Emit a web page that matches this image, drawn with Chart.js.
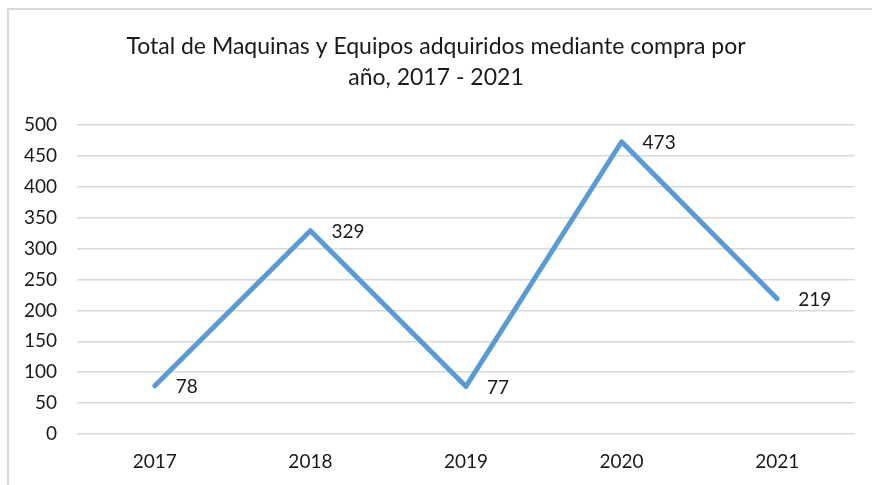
<!DOCTYPE html>
<html>
<head>
<meta charset="utf-8">
<title>Maquinas y Equipos</title>
<script src="https://cdn.jsdelivr.net/npm/chart.js@4.4.1/dist/chart.umd.min.js"></script>
<style>
  html, body { margin: 0; padding: 0; background: #fff; overflow: hidden; }
  #wrap { position: relative; width: 872px; height: 485px; }
  #frame {
    position: absolute; left: 7px; top: 8px; width: 900px; height: 500px;
    border-left: 2px solid #d9d9d9; border-top: 2px solid #d9d9d9;
  }
  canvas { position: absolute; left: 0; top: 0; }
</style>
</head>
<body>
<div id="wrap">
  <div id="frame"></div>
  <canvas id="myChart" width="872" height="485"></canvas>
</div>
<script>
const years = ['2017', '2018', '2019', '2020', '2021'];
const compras = [78, 329, 77, 473, 219];
const titleLines = ['Total de Maquinas y Equipos adquiridos mediante compra por', 'año, 2017 - 2021'];

const FONT = "Lato, 'Open Sans', sans-serif";

// value labels to the right of each point
const pointLabels = {
  id: 'pointLabels',
  afterDatasetsDraw(chart) {
    const ctx = chart.ctx;
    const meta = chart.getDatasetMeta(0);
    ctx.save();
    ctx.font = '19px ' + FONT;
    ctx.fillStyle = '#1a1a1a';
    ctx.textAlign = 'left';
    ctx.textBaseline = 'middle';
    meta.data.forEach((pt, i) => {
      ctx.fillText(String(compras[i]), pt.x + 21, pt.y + 1);
    });
    ctx.restore();
  }
};

const ctx = document.getElementById('myChart').getContext('2d');
new Chart(ctx, {
  type: 'line',
  data: {
    labels: years,
    datasets: [{
      label: 'Compra',
      data: compras,
      borderColor: '#5b9bd5',
      borderWidth: 5,
      borderCapStyle: 'round',
      borderJoinStyle: 'round',
      pointRadius: 0,
      pointHoverRadius: 0,
      tension: 0,
      fill: false
    }]
  },
  options: {
    responsive: false,
    animation: false,
    layout: { padding: { left: 17, right: 17, top: 0, bottom: 0 } },
    plugins: {
      legend: { display: false },
      tooltip: { enabled: false },
      title: {
        display: true,
        text: titleLines,
        color: '#1a1a1a',
        font: { family: FONT, size: 23, weight: 'normal', lineHeight: 1.35 },
        padding: { top: 31, bottom: 32 }
      }
    },
    scales: {
      x: {
        offset: true,
        afterFit(scale) { scale.height = 51; },
        grid: { display: false, drawTicks: false },
        border: { display: false },
        ticks: { color: '#1a1a1a', font: { family: FONT, size: 19 }, padding: 16 }
      },
      y: {
        min: 0,
        max: 500,
        afterFit(scale) { scale.width = 60; },
        grid: { color: '#d9d9d9', lineWidth: 1.5, drawTicks: false },
        border: { display: false },
        ticks: { stepSize: 50, color: '#1a1a1a', font: { family: FONT, size: 19 }, padding: 20 }
      }
    }
  },
  plugins: [pointLabels]
});
</script>
</body>
</html>
